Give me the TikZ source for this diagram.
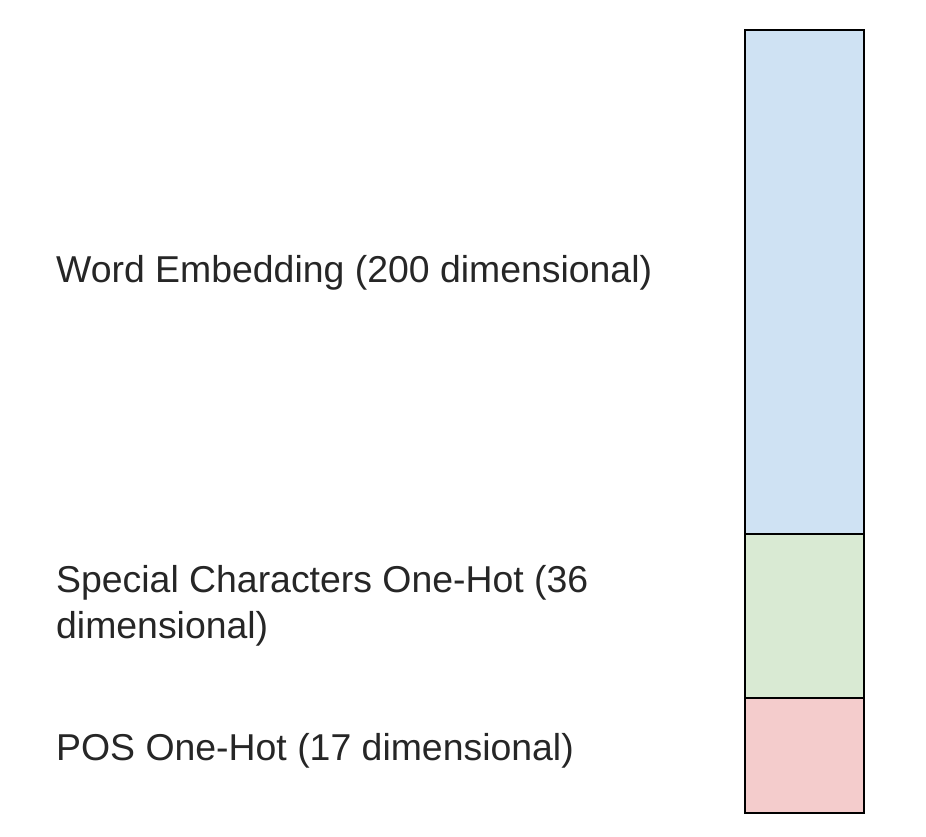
\documentclass[tikz,border=0pt]{standalone}
\usepackage{fontspec}
\setmainfont{Liberation Sans}
\definecolor{wblue}{HTML}{CFE2F3}
\definecolor{wgreen}{HTML}{D9EAD3}
\definecolor{wred}{HTML}{F4CCCC}
\tikzset{
  seg/.style={draw=black, line width=2.9pt},
  lbl/.style={anchor=base west, inner sep=0pt, font=\fontsize{37.4}{46}\selectfont, text=black!85}
}
\begin{document}
\begin{tikzpicture}[x=1pt,y=-1pt]
\useasboundingbox (0,0) rectangle (926,836);
\fill[white] (0,0) rectangle (926,836);
\path[seg, fill=wblue] (745,30) rectangle (864,534);
\path[seg, fill=wgreen] (745,534) rectangle (864,698);
\path[seg, fill=wred] (745,698) rectangle (864,813);
\node[lbl] (we) at (56,282) {Word Embedding (200 dimensional)};
\node[lbl] (sc1) at (56,592) {Special Characters One-Hot (36};
\node[lbl] (sc2) at (56,638) {dimensional)};
\node[lbl] (pos) at (56,760) {POS One-Hot (17 dimensional)};
\end{tikzpicture}
\end{document}
